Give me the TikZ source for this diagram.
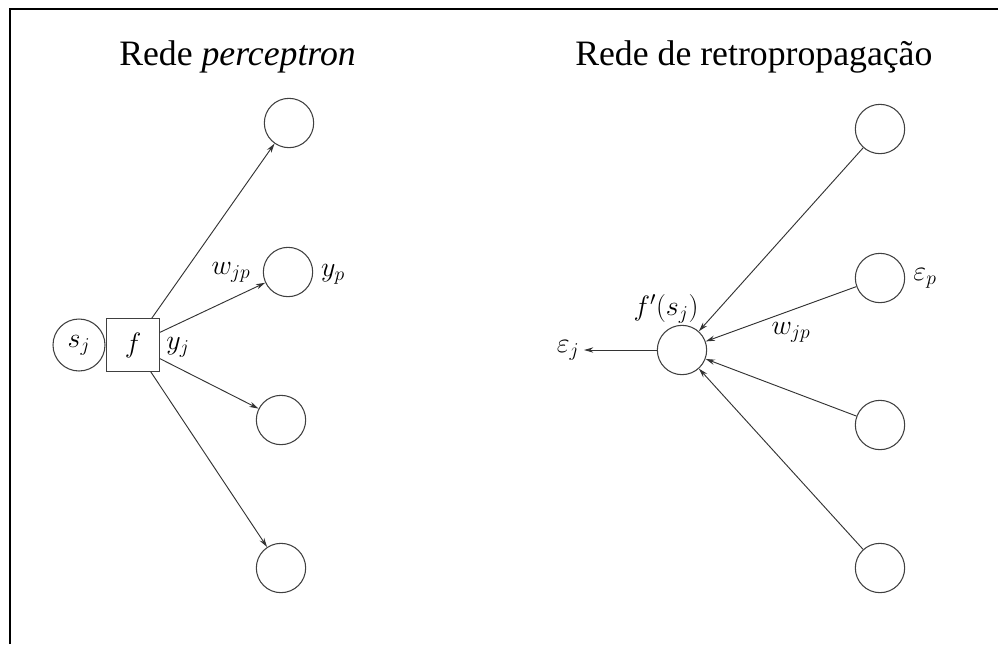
\RequirePackage{fix-cm}
\documentclass[tikz,border=0pt]{standalone}
\usepackage{fontspec}
\setmainfont{Liberation Serif}
\usetikzlibrary{arrows.meta}
\begin{document}
\begin{tikzpicture}[x=0.75pt,y=-0.75pt,
  neuron/.style={circle,draw=black!75,line width=0.8pt,minimum size=37pt,inner sep=0pt},
  unit/.style={rectangle,draw=black!75,line width=0.8pt,minimum size=39.5pt,inner sep=0pt},
  lbl/.style={font=\fontsize{21}{25}\selectfont},
  syn/.style={-{Stealth[length=7pt,width=4pt]},draw=black!80,line width=0.7pt}]
\useasboundingbox (0,0) rectangle (998,644);
% frame (cut off at the right and at the bottom)
\draw[line width=1.5pt] (10,644) -- (10,9) -- (998,9);
% titles
\node[anchor=base west,inner sep=0pt,font=\fontsize{26.8}{32}\selectfont] (tperc) at (119,65) {Rede \textit{perceptron}};
\node[anchor=base west,inner sep=0pt,font=\fontsize{26.8}{32}\selectfont] (tretro) at (575,65) {Rede de retropropagação};
% perceptron: input, activation and outputs
\node[neuron,minimum size=39pt,lbl] (sj) at (79,345) {$s_j$};
\node[unit,lbl] (f) at (133,345) {$f$};
\foreach \n/\xx/\yy in {1/289/123,2/288/272,3/281/420,4/281/568} {
  \node[neuron] (o\n) at (\xx,\yy) {};
  \draw[syn] (f) -- (o\n);
}
\node[lbl] (yj) at (178,347) {$y_j$};
\node[lbl] (wl) at (231,272) {$w_{jp}$};
\node[lbl] (yp) at (333,274) {$y_p$};
% backpropagation: errors flow back to unit j
\node[neuron] (e) at (682,350) {};
\foreach \n/\yy in {1/129,2/278,3/425,4/568} {
  \node[neuron] (i\n) at (880,\yy) {};
  \draw[syn] (i\n) -- (e);
}
\node[lbl,anchor=east] (epsj) at (584,350) {$\varepsilon_j$};
\draw[syn] (e) -- (epsj);
\node[lbl] (fp) at (666,309) {$f'(s_j)$};
\node[lbl] (wr) at (791,332) {$w_{jp}$};
\node[lbl] (epsp) at (925,278) {$\varepsilon_p$};
\end{tikzpicture}
\end{document}
